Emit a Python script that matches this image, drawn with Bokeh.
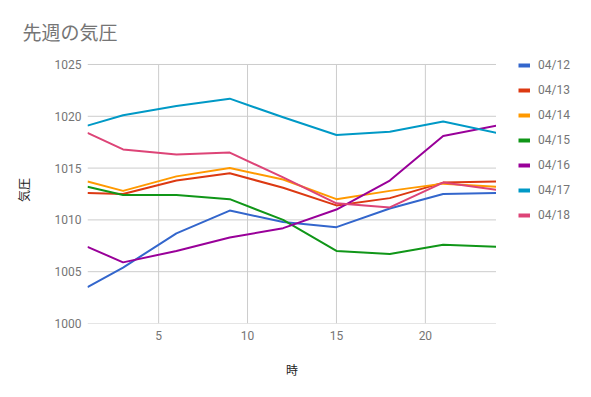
from bokeh.plotting import figure
from bokeh.layouts import row
from bokeh.models import Range1d, FixedTicker, Legend, LegendItem
from bokeh.embed import file_html
from bokeh.resources import INLINE

hours = [1, 3, 6, 9, 12, 15, 18, 21, 24]
d0412 = [1003.5, 1005.4, 1008.7, 1010.9, 1009.8, 1009.3, 1011.1, 1012.5, 1012.6]
d0413 = [1012.6, 1012.5, 1013.8, 1014.5, 1013.1, 1011.4, 1012.1, 1013.6, 1013.7]
d0414 = [1013.7, 1012.8, 1014.2, 1015.0, 1013.9, 1012.0, 1012.8, 1013.5, 1013.2]
d0415 = [1013.2, 1012.4, 1012.4, 1012.0, 1010.0, 1007.0, 1006.7, 1007.6, 1007.4]
d0416 = [1007.4, 1005.9, 1007.0, 1008.3, 1009.2, 1011.0, 1013.8, 1018.1, 1019.1]
d0417 = [1019.1, 1020.1, 1021.0, 1021.7, 1019.9, 1018.2, 1018.5, 1019.5, 1018.4]
d0418 = [1018.4, 1016.8, 1016.3, 1016.5, 1014.1, 1011.6, 1011.2, 1013.6, 1012.9]

labels = ["04/12", "04/13", "04/14", "04/15", "04/16", "04/17", "04/18"]
series = [d0412, d0413, d0414, d0415, d0416, d0417, d0418]
colors = ["#3366cc", "#dc3912", "#ff9900", "#109618", "#990099", "#0099c6", "#dd4477"]

x_ticks = [5, 10, 15, 20]
y_ticks = [1000, 1005, 1010, 1015, 1020, 1025]

title_text = "先週の気圧"
x_title = "時"
y_title = "気圧"

JP = "Noto Sans CJK JP"

# a little headroom above the top grid line so the legend (next panel) lines up
y_end = 1025.77

p = figure(width=496, height=397, output_backend="svg", toolbar_location=None,
           x_range=Range1d(hours[0], hours[-1]), y_range=Range1d(y_ticks[0], y_end),
           min_border_left=87, min_border_right=0, min_border_top=56, min_border_bottom=74)
p.outline_line_color = None
p.background_fill_color = "white"
p.border_fill_color = "white"
p.grid.visible = False

p.title.text = title_text
p.title.text_font = JP
p.title.text_font_size = "19px"
p.title.text_font_style = "normal"
p.title.text_color = "#757575"
p.title.align = "left"
p.title.offset = -65
p.title.standoff = 24

for ax in (p.xaxis[0], p.yaxis[0]):
    ax.axis_line_color = None
    ax.major_tick_line_color = None
    ax.minor_tick_line_color = None
    ax.major_tick_out = 0
    ax.major_tick_in = 0
    ax.major_label_text_font = "Roboto"
    ax.major_label_text_font_size = "12px"
    ax.major_label_text_color = "#757575"
    ax.axis_label_text_font = JP
    ax.axis_label_text_font_size = "12px"
    ax.axis_label_text_font_style = "normal"
    ax.axis_label_text_color = "#222222"

p.xaxis.ticker = FixedTicker(ticks=x_ticks)
p.yaxis.ticker = FixedTicker(ticks=y_ticks)
p.xaxis.axis_label = x_title
p.yaxis.axis_label = y_title
p.xaxis.major_label_standoff = 7
p.yaxis.major_label_standoff = 6
p.xaxis.axis_label_standoff = 18
p.yaxis.axis_label_standoff = 20

# grid lines limited to the data area
p.segment(x0=x_ticks, x1=x_ticks, y0=[y_ticks[0]] * len(x_ticks), y1=[y_ticks[-1]] * len(x_ticks),
          line_color="#cccccc", line_width=1)
p.segment(x0=[hours[0]] * len(y_ticks), x1=[hours[-1]] * len(y_ticks), y0=y_ticks, y1=y_ticks,
          line_color="#cccccc", line_width=1)

for vals, col in zip(series, colors):
    p.line(hours, vals, line_color=col, line_width=2, line_join="round")

# legend panel to the right of the chart
lg = figure(width=95, height=397, output_backend="svg", toolbar_location=None,
            x_axis_type=None, y_axis_type=None, min_border=0)
lg.outline_line_color = None
lg.grid.visible = False
lg.background_fill_color = "white"
lg.border_fill_color = "white"

items = []
for lab, vals, col in zip(labels, series, colors):
    swatch = lg.line(hours[:1], vals[:1], line_color=col, line_width=4)
    items.append(LegendItem(label=lab, renderers=[swatch]))

legend = Legend(items=items, location=(22, 101), orientation="vertical",
                border_line_color=None, background_fill_alpha=0,
                padding=0, margin=0, spacing=11, glyph_width=12, glyph_height=14,
                label_height=14, label_standoff=8,
                label_text_font="Roboto", label_text_font_size="12px",
                label_text_color="#757575")
lg.add_layout(legend)

layout = row(p, lg, spacing=0)

open("out.html", "w").write(file_html(layout, INLINE))
